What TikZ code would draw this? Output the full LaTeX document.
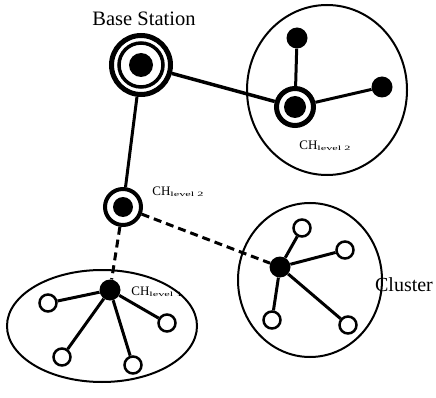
\documentclass[tikz,border=0pt]{standalone}
\usepackage{fontspec}
\setmainfont{Liberation Serif}
\usepackage{graphicx}
\newcommand{\chlab}[1]{CH\raisebox{-1pt}{\scalebox{1.9}[1]{\fontsize{6.5}{6.5}\selectfont level #1}}}
\begin{document}
\begin{tikzpicture}[x=1pt,y=-1pt,
  edge/.style={line width=3pt},
  dedge/.style={line width=3pt, dash pattern=on 8pt off 5pt},
  fnode/.style={circle, fill=black, minimum size=21pt, inner sep=0pt},
  hnode/.style={circle, draw, line width=2.5pt, fill=white, minimum size=17pt, inner sep=0pt},
  clus/.style={draw, line width=2pt},
  lab/.style={inner sep=0pt, font=\fontsize{13}{13}\selectfont}
]
\useasboundingbox (0,0) rectangle (436,398);
% clusters
\draw[clus] (327,90) ellipse [x radius=80, y radius=85];
\draw[clus] (310,280) ellipse [x radius=72, y radius=77];
\draw[clus] (102,326) ellipse [x radius=95, y radius=56];
% base station
\node[circle, draw, line width=5pt, fill=white, minimum size=59pt, inner sep=0pt] (bs) at (141,65) {};
\node[circle, draw, line width=3.5pt, minimum size=44pt, inner sep=0pt] (bsring) at (bs.center) {};
\node[fnode, minimum size=24pt] (bsdot) at (bs.center) {};
% upper cluster head
\node[circle, draw, line width=5pt, fill=white, minimum size=37pt, inner sep=0pt] (u) at (295,107) {};
\node[fnode, minimum size=22pt] (udot) at (u.center) {};
\node[fnode] (ut) at (297,38) {};
\node[fnode] (ur) at (382,87) {};
% middle cluster head
\node[circle, draw, line width=4pt, fill=white, minimum size=36pt, inner sep=0pt] (m) at (123,207) {};
\node[fnode, minimum size=20pt] (mdot) at (m.center) {};
% right cluster
\node[fnode] (r) at (280,267) {};
\node[hnode] (r1) at (302,228) {};
\node[hnode] (r2) at (345,250) {};
\node[hnode] (r3) at (272,320) {};
\node[hnode] (r4) at (348,325) {};
% bottom cluster
\node[fnode] (b) at (110,290) {};
\node[hnode] (b1) at (48,303) {};
\node[hnode] (b2) at (167,323) {};
\node[hnode] (b3) at (62,357) {};
\node[hnode] (b4) at (133,365) {};
% edges
\draw[edge, line width=3.5pt] (bs) -- (u);
\draw[edge] (bs) -- (m);
\draw[edge] (u) -- (ut);
\draw[edge] (u) -- (ur);
\draw[dedge] (m) -- (r);
\draw[dedge] (m) -- (b);
\foreach \n in {r1,r2,r3,r4} \draw[edge] (r) -- (\n);
\foreach \n in {b1,b2,b3,b4} \draw[edge] (b) -- (\n);
% labels
\node[inner sep=0pt, font=\fontsize{20.5}{20.5}\selectfont] (bslab) at (144,19) {Base Station};
\node[lab] (ulab) at (325,146) {\chlab{2}};
\node[lab] (mlab) at (178,192) {\chlab{2}};
\node[lab] (blab) at (157,292) {\chlab{1}};
\node[inner sep=0pt, font=\fontsize{20}{20}\selectfont] (clab) at (404,285) {Cluster};
\end{tikzpicture}
\end{document}
